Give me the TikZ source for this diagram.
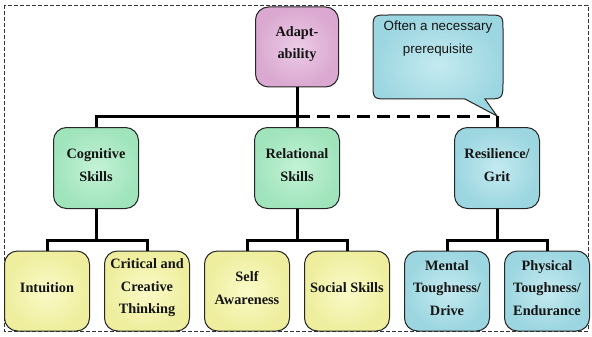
\documentclass[tikz,border=0pt]{standalone}
\usepackage{fontspec}
\setmainfont{Liberation Serif}
\newfontfamily\arialf{Liberation Sans}
\definecolor{pinkout}{RGB}{218,168,208}
\definecolor{pinkin}{RGB}{236,204,230}
\definecolor{greenout}{RGB}{160,228,188}
\definecolor{greenin}{RGB}{196,242,214}
\definecolor{yellowout}{RGB}{238,238,158}
\definecolor{yellowin}{RGB}{250,250,200}
\definecolor{blueout}{RGB}{156,214,224}
\definecolor{bluein}{RGB}{196,234,240}
\definecolor{txt}{RGB}{20,20,20}
\tikzset{
  box/.style={draw=black!85, line width=1pt, rounded corners=13pt,
    minimum width=85pt, minimum height=81pt, inner sep=0pt},
  lbl/.style={align=center, text=txt, inner sep=0pt,
    font=\bfseries\fontsize{14.3}{22.5}\selectfont},
  pinkbox/.style={box, inner color=pinkin, outer color=pinkout},
  greenbox/.style={box, inner color=greenin, outer color=greenout},
  yellowbox/.style={box, inner color=yellowin, outer color=yellowout, minimum height=80pt},
  bluebox/.style={box, inner color=bluein, outer color=blueout},
  blueboxl/.style={bluebox, minimum height=80pt},
  conn/.style={line width=3pt, black},
  dconn/.style={line width=3pt, black, dash pattern=on 13pt off 7pt},
  frame/.style={line width=0.8pt, black!80, dash pattern=on 4pt off 2pt},
}
\begin{document}
\begin{tikzpicture}[x=1pt, y=-1pt]
\useasboundingbox (0,0) rectangle (592,337);
\draw[frame] (4,5) rectangle (588,331);

% callout
\shade[draw=black!85, line width=1pt, inner color=bluein, outer color=blueout]
  (465,99) -- (389,99) .. controls (373,99) .. (373,83) -- (373,31)
  .. controls (373,15) .. (389,15) -- (487,15) .. controls (503,15) .. (503,31)
  -- (503,81) .. controls (503,99) .. (485,99) -- (497,116) -- cycle;
\node[font=\arialf\fontsize{13.4}{23}\selectfont, align=center, text=txt] (note) at (438,39)
  {Often a necessary\\prerequisite};

\node[pinkbox, minimum width=83pt, minimum height=80pt] (ad) at (297,47) {};
\node[greenbox] (cog) at (96,168) {};
\node[greenbox] (rel) at (297,168) {};
\node[bluebox] (res) at (497,168) {};
\node[yellowbox] (int) at (47,291) {};
\node[yellowbox] (crit) at (147,291) {};
\node[yellowbox] (self) at (247,291) {};
\node[yellowbox] (soc) at (347,291) {};
\node[blueboxl] (ment) at (447,291) {};
\node[blueboxl] (phys) at (547,291) {};

\node[lbl] (tad) at ([yshift=3pt]ad.center) {Adapt-\\ability};
\node[lbl] (tcog) at ([yshift=3pt]cog.center) {Cognitive\\Skills};
\node[lbl] (trel) at ([yshift=3pt]rel.center) {Relational\\Skills};
\node[lbl] (tres) at ([yshift=3pt]res.center) {Resilience/\\Grit};
\node[lbl] (tint) at ([yshift=3pt]int.center) {Intuition};
\node[lbl] (tcrit) at ([yshift=3pt]crit.center) {Critical and\\Creative\\Thinking};
\node[lbl] (tself) at ([yshift=3pt]self.center) {Self\\Awareness};
\node[lbl] (tsoc) at ([yshift=3pt]soc.center) {Social Skills};
\node[lbl] (tment) at ([yshift=3pt]ment.center) {Mental\\Toughness/\\Drive};
\node[lbl] (tphys) at ([yshift=3pt]phys.center) {Physical\\Toughness/\\Endurance};

\coordinate (j1) at (297,116);
\coordinate (tip) at (497,116);
\coordinate (lvl) at (0,240);

\draw[conn] (ad.south) -- (j1);
\draw[conn] (cog.north) -- (cog.north |- j1) -- (j1) -- (rel.north);
\draw[dconn] (j1) -- (tip);
\draw[conn] (tip) -- (res.north);

\draw[conn] (cog.south) -- (cog.south |- lvl);
\draw[conn] (int.north) |- (crit.north |- lvl) -- (crit.north);
\draw[conn] (rel.south) -- (rel.south |- lvl);
\draw[conn] (self.north) |- (soc.north |- lvl) -- (soc.north);
\draw[conn] (res.south) -- (res.south |- lvl);
\draw[conn] (ment.north) |- (phys.north |- lvl) -- (phys.north);
\end{tikzpicture}
\end{document}
